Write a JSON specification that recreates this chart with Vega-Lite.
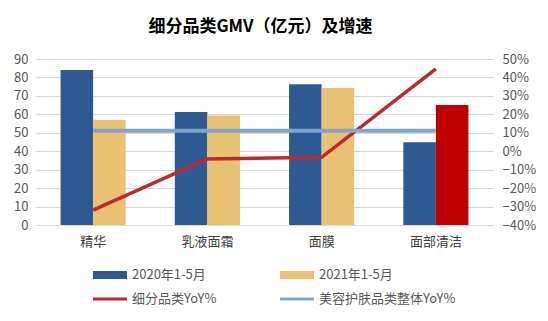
{
  "$schema": "https://vega.github.io/schema/vega-lite/v6.json",
  "width": 457,
  "height": 166,
  "autosize": {"type": "none"},
  "padding": {"left": 36, "top": 59, "right": 55, "bottom": 96},
  "background": "white",
  "title": {"text": "细分品类GMV（亿元）及增速", "fontSize": 17, "fontWeight": "bold", "font": "Noto Sans CJK SC", "color": "#000000", "offset": 17, "anchor": "middle", "dx": -4},
  "config": {
    "view": {"stroke": null},
    "font": "Noto Sans CJK SC",
    "axis": {"labelFont": "Noto Sans CJK SC", "labelFontSize": 13, "labelColor": "#595959", "ticks": false, "domain": false, "title": null},
    "legend": {"labelFont": "Noto Sans CJK SC"}
  },
  "datasets": {
    "bars": [
      {"category": "精华", "series": "2020年1-5月", "gmv": 84.1},
      {"category": "精华", "series": "2021年1-5月", "gmv": 57.0},
      {"category": "乳液面霜", "series": "2020年1-5月", "gmv": 61.2},
      {"category": "乳液面霜", "series": "2021年1-5月", "gmv": 59.3},
      {"category": "面膜", "series": "2020年1-5月", "gmv": 76.3},
      {"category": "面膜", "series": "2021年1-5月", "gmv": 74.3},
      {"category": "面部清洁", "series": "2020年1-5月", "gmv": 44.8},
      {"category": "面部清洁", "series": "2021年1-5月", "gmv": 65.1}
    ],
    "seg": [
      {"category": "精华", "series": "细分品类YoY%", "yoy": -0.319},
      {"category": "乳液面霜", "series": "细分品类YoY%", "yoy": -0.042},
      {"category": "面膜", "series": "细分品类YoY%", "yoy": -0.033},
      {"category": "面部清洁", "series": "细分品类YoY%", "yoy": 0.446}
    ],
    "all": [
      {"category": "精华", "series": "美容护肤品类整体YoY%", "yoy": 0.111},
      {"category": "乳液面霜", "series": "美容护肤品类整体YoY%", "yoy": 0.111},
      {"category": "面膜", "series": "美容护肤品类整体YoY%", "yoy": 0.111},
      {"category": "面部清洁", "series": "美容护肤品类整体YoY%", "yoy": 0.111}
    ]
  },
  "layer": [
    {
      "data": {"name": "bars"},
      "mark": {"type": "bar"},
      "encoding": {
        "x": {
          "field": "category", "type": "nominal",
          "sort": ["精华", "乳液面霜", "面膜", "面部清洁"],
          "scale": {"paddingInner": 0.43, "paddingOuter": 0.215},
          "axis": {"labelAngle": 0, "domain": true, "domainColor": "#D9D9D9", "labelPadding": 10, "labelColor": "#404040"}
        },
        "xOffset": {"field": "series", "type": "nominal", "sort": ["2020年1-5月", "2021年1-5月"]},
        "y": {
          "field": "gmv", "type": "quantitative",
          "scale": {"domain": [0, 90], "nice": false},
          "axis": {"orient": "left", "values": [0, 10, 20, 30, 40, 50, 60, 70, 80, 90], "grid": true, "gridColor": "#D9D9D9", "labelPadding": 8}
        },
        "color": {
          "field": "series", "type": "nominal",
          "condition": {"test": "datum.category === '面部清洁' && datum.series === '2021年1-5月'", "value": "#C00000"},
          "scale": {
            "domain": ["2020年1-5月", "2021年1-5月", "细分品类YoY%", "美容护肤品类整体YoY%"],
            "range": ["#2E5A94", "#E8C172", "#C0282E", "#7FA7CE"]
          },
          "legend": {
            "orient": "none",
            "direction": "horizontal",
            "legendX": 57,
            "legendY": 199,
            "title": null,
            "columns": 2,
            "columnPadding": 63,
            "rowPadding": -12,
            "labelFontSize": 13,
            "labelColor": "#595959",
            "labelOffset": 5,
            "symbolSize": 1156,
            "symbolStrokeWidth": 0,
            "encode": {
              "symbols": {
                "update": {
                  "shape": {"signal": "indexof(datum.value, 'YoY') >= 0 ? 'M-1,-0.09H1V0.09H-1Z' : 'M-1,-0.24H1V0.24H-1Z'"},
                  "fill": {"scale": "color", "field": "value"},
                  "strokeWidth": {"value": 0}
                }
              }
            }
          }
        }
      }
    },
    {
      "data": {"name": "seg"},
      "mark": {"type": "line", "strokeWidth": 3.5},
      "encoding": {
        "x": {"field": "category", "type": "nominal", "sort": ["精华", "乳液面霜", "面膜", "面部清洁"]},
        "y": {
          "field": "yoy", "type": "quantitative",
          "scale": {"domain": [-0.4, 0.5], "nice": false},
          "axis": {"orient": "right", "format": ".0%", "values": [-0.4, -0.3, -0.2, -0.1, 0, 0.1, 0.2, 0.3, 0.4, 0.5], "grid": false, "labelPadding": 9}
        },
        "color": {"field": "series", "type": "nominal"}
      }
    },
    {
      "data": {"name": "all"},
      "mark": {"type": "line", "strokeWidth": 4},
      "encoding": {
        "x": {"field": "category", "type": "nominal", "sort": ["精华", "乳液面霜", "面膜", "面部清洁"]},
        "y": {"field": "yoy", "type": "quantitative", "scale": {"domain": [-0.4, 0.5], "nice": false}, "axis": null},
        "color": {"field": "series", "type": "nominal"}
      }
    }
  ],
  "resolve": {"scale": {"y": "independent"}}
}
